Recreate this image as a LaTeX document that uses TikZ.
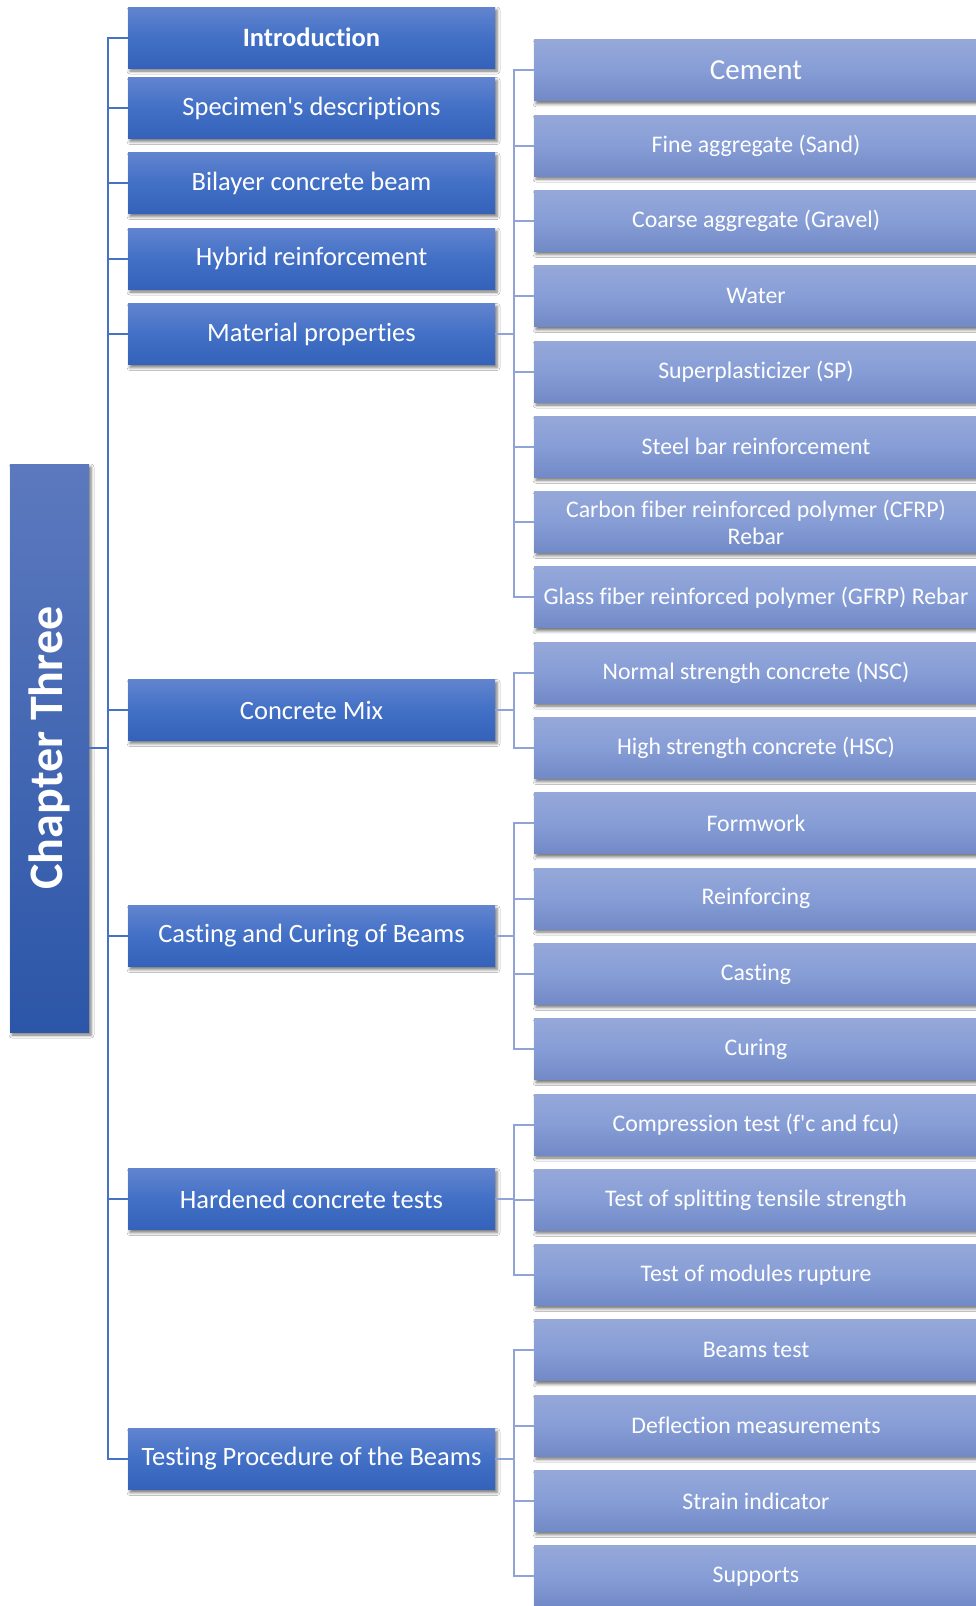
\documentclass[tikz,border=0pt]{standalone}
\usepackage{fontspec}
\setmainfont{Carlito}[Ligatures={TeX,NoCommon}]
\usepackage{graphicx}
\usetikzlibrary{shadows.blur}
\definecolor{ltop}{RGB}{98,132,207}
\definecolor{lmid}{RGB}{66,112,198}
\definecolor{lbot}{RGB}{52,98,186}
\definecolor{rtop}{RGB}{150,168,217}
\definecolor{rmid}{RGB}{134,157,214}
\definecolor{rbot}{RGB}{113,137,198}
\definecolor{ctop}{RGB}{92,121,190}
\definecolor{cbot}{RGB}{44,86,168}
\definecolor{trunkc}{RGB}{68,114,196}
\definecolor{brkc}{RGB}{143,163,214}
\tikzset{
  shad/.style={blur shadow={shadow xshift=2pt,shadow yshift=-3pt,shadow blur radius=3pt,shadow opacity=55}},
  lbox/.style={shad,top color=ltop,bottom color=lbot,middle color=lmid,minimum width=367pt,minimum height=61pt,inner sep=0pt,text=white,font=\fontsize{26.5}{30}\selectfont},
  rbox/.style={shad,top color=rtop,bottom color=rbot,middle color=rmid,minimum width=444pt,minimum height=61pt,inner sep=0pt,text=white,align=center,font=\fontsize{23.8}{27}\selectfont},
  chapbox/.style={shad,top color=ctop,bottom color=cbot,minimum width=79pt,minimum height=568pt,inner sep=0pt,text=white,font=\fontsize{48}{54}\selectfont\bfseries},
  trunk/.style={draw=trunkc,line width=2pt},
  brk/.style={draw=brkc,line width=2pt}
}
\begin{document}
\begin{tikzpicture}[x=1pt,y=-1pt]
\useasboundingbox[fill=white] (0,0) rectangle (976,1606);
% chapter
\node[chapbox] (chap) at (49.5,748) {\rotatebox{90}{Chapter Three}};
% left boxes
\node[lbox,font=\fontsize{26.5}{30}\selectfont\bfseries] (intro) at (311.5,37.5) {Introduction};
\node[lbox] (spec) at (311.5,108) {Specimen\textquotesingle s descriptions};
\node[lbox] (bil) at (311.5,183) {Bilayer concrete beam};
\node[lbox] (hyb) at (311.5,258.5) {Hybrid reinforcement};
\node[lbox] (mat) at (311.5,334) {Material properties};
\node[lbox] (mix) at (311.5,710) {Concrete Mix};
\node[lbox] (cast) at (311.5,936) {Casting and Curing of Beams};
\node[lbox] (hard) at (311.5,1199) {Hardened concrete tests};
\node[lbox] (test) at (311.5,1459) {Testing Procedure of the Beams};
% right boxes
\node[rbox,font=\fontsize{29}{33}\selectfont] (r0) at (756,70.3) {Cement};
\node[rbox] (r1) at (756,145.6) {Fine aggregate (Sand)};
\node[rbox] (r2) at (756,220.9) {Coarse aggregate (Gravel)};
\node[rbox] (r3) at (756,296.2) {Water};
\node[rbox] (r4) at (756,371.5) {Superplasticizer (SP)};
\node[rbox] (r5) at (756,446.8) {Steel bar reinforcement};
\node[rbox] (r6) at (756,522.1) {Carbon fiber reinforced polymer (CFRP)\\Rebar};
\node[rbox] (r7) at (756,597.4) {Glass fiber reinforced polymer (GFRP) Rebar};
\node[rbox] (r8) at (756,672.7) {Normal strength concrete (NSC)};
\node[rbox] (r9) at (756,748.0) {High strength concrete (HSC)};
\node[rbox] (r10) at (756,823.3) {Formwork};
\node[rbox] (r11) at (756,898.6) {Reinforcing};
\node[rbox] (r12) at (756,973.9) {Casting};
\node[rbox] (r13) at (756,1049.2) {Curing};
\node[rbox] (r14) at (756,1124.5) {Compression test (f\textquotesingle c and fcu)};
\node[rbox] (r15) at (756,1199.8) {Test of splitting tensile strength};
\node[rbox] (r16) at (756,1275.1) {Test of modules rupture};
\node[rbox] (r17) at (756,1350.4) {Beams test};
\node[rbox] (r18) at (756,1425.7) {Deflection measurements};
\node[rbox] (r19) at (756,1501.0) {Strain indicator};
\node[rbox] (r20) at (756,1576.3) {Supports};
% trunk
\coordinate (tk) at (107.5,0);
\draw[trunk] (intro.west) -| (tk |- test.west) -- (test.west);
\draw[trunk] (chap.east) -- (tk |- chap.east);
\foreach \b in {spec,bil,hyb,mat,mix,cast,hard}{
  \draw[trunk] (\b.west) -- (tk |- \b.west);
}
% brackets
\coordinate (rb) at (514,0);
\draw[brk] (mat.east) -- (rb |- mat.east);
\draw[brk] (r0.west) -| (rb |- r7.west) -- (r7.west);
\foreach \b in {r1,r2,r3,r4,r5,r6}{\draw[brk] (\b.west) -- (rb |- \b.west);}
\draw[brk] (mix.east) -- (rb |- mix.east);
\draw[brk] (r8.west) -| (rb |- r9.west) -- (r9.west);
\draw[brk] (cast.east) -- (rb |- cast.east);
\draw[brk] (r10.west) -| (rb |- r13.west) -- (r13.west);
\foreach \b in {r11,r12}{\draw[brk] (\b.west) -- (rb |- \b.west);}
\draw[brk] (hard.east) -- (rb |- hard.east);
\draw[brk] (r14.west) -| (rb |- r16.west) -- (r16.west);
\draw[brk] (r15.west) -- (rb |- r15.west);
\draw[brk] (test.east) -- (rb |- test.east);
\draw[brk] (r17.west) -| (rb |- r20.west) -- (r20.west);
\foreach \b in {r18,r19}{\draw[brk] (\b.west) -- (rb |- \b.west);}
\end{tikzpicture}
\end{document}
